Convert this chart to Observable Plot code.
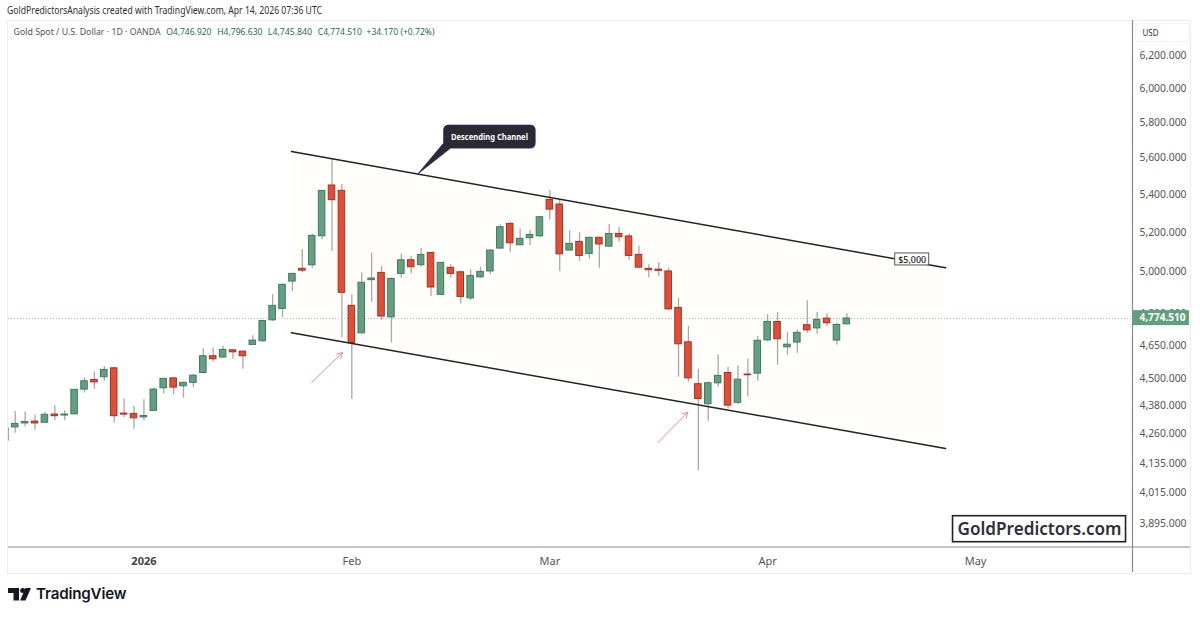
<!DOCTYPE html>
<html>
<head>
<meta charset="utf-8">
<script src="https://cdn.jsdelivr.net/npm/d3@7"></script>
<script src="https://cdn.jsdelivr.net/npm/@observablehq/plot@0.6"></script>
<style>
html,body{margin:0;padding:0;background:#fff;width:1200px;height:617px;overflow:hidden;position:relative}
#credit{position:absolute;left:7px;top:3px;font:10.5px/14px "Noto Sans",sans-serif;color:#2e2e2e;white-space:nowrap;transform-origin:left center}
#panel{position:absolute;left:7px;top:20px;width:1182px;height:552px;border:1px solid #eeeeee;box-sizing:content-box}
#unit{position:absolute;left:1135px;top:23px;width:53px;height:17px;border:1px solid #f4f4f4;border-radius:3px}
#chart{position:absolute;left:0;top:20px}
#brand{position:absolute;left:8px;top:585px;height:18px;display:flex;align-items:center}
#brand span{margin-left:5px;font:600 15.2px/18px Inter,sans-serif;color:#131722;letter-spacing:-.2px}
</style>
</head>
<body>
<div id="credit">GoldPredictorsAnalysis created with TradingView.com, Apr 14, 2026 07:36 UTC</div>
<div id="panel"></div>
<div id="unit"></div>
<div id="chart"></div>
<div id="brand"><svg width="23" height="14" viewBox="0 0 23 14"><path d="M0 1h11v12.5H5.5V6H0z" fill="#131722"/><circle cx="14.7" cy="3.5" r="2.5" fill="#131722"/><path d="M17.5 1H23l-5.5 12.5H12z" fill="#131722"/></svg><span>TradingView</span></div>
<script>
const open=[4229,4285,4302,4310,4305,4340,4336,4341,4449,4492,4504,4544,4344,4343,4328,4356,4455,4499,4464,4479,4523,4599,4593,4626,4620,4651,4668,4766,4820,4953,5016,5034,5181,5449,5420,4835,4705,4960,4996,4780,4991,5059,5034,5096,4888,5021,4999,4871,4974,5003,5118,5245,5135,5171,5181,5371,5347,5108,5152,5091,5173,5128,5193,5180,5086,5016,5012,5003,4825,4663,4473,4385,4477,4523,4391,4516,4520,4672,4758,4640,4662,4743,4728,4774,4671,4746.92];
const high=[4280,4354,4351,4337,4350,4378,4357,4448,4502,4528,4552,4549,4408,4376,4404,4457,4498,4501,4483,4516,4633,4637,4645,4628,4622,4694,4765,4889,4942,4991,5113,5190,5422,5595,5454,4888,4996,5094,5027,4971,5091,5079,5120,5096,5047,5037,5003,5011,5024,5112,5240,5254,5219,5211,5284,5422,5372,5209,5199,5176,5176,5242,5226,5193,5130,5037,5047,5019,4871,4738,4540,4484,4606,4549,4556,4585,4690,4793,4803,4708,4721,4860,4803,4797,4752,4796.63];
const low=[4229,4260,4288,4274,4304,4314,4314,4341,4434,4450,4486,4304,4328,4277,4314,4356,4430,4427,4411,4458,4523,4573,4591,4585,4540,4649,4663,4760,4778,4904,4996,5019,5163,5103,4684,4405,4702,4852,4765,4660,4969,4991,5024,4881,4885,4969,4844,4860,4968,4988,5116,5099,5133,5132,5173,5266,5001,5108,5054,5066,5019,5122,5150,5058,5019,4971,4978,4812,4504,4481,4104,4311,4459,4365,4383,4418,4486,4665,4558,4603,4612,4705,4700,4738,4649,4745.84];
const close=[4280,4300,4308,4302,4339,4333,4340,4448,4486,4481,4537,4333,4340,4324,4334,4449,4497,4458,4479,4511,4599,4585,4628,4617,4599,4671,4763,4835,4937,4991,5007,5183,5420,5370,4898,4660,4947,4968,4784,4966,5059,5024,5086,4924,5046,4991,4878,4981,5001,5108,5228,5145,5168,5188,5280,5320,5089,5142,5081,5173,5139,5193,5176,5081,5022,5009,5006,4818,4654,4499,4408,4477,4510,4379,4493,4513,4670,4758,4677,4652,4707,4719,4768,4752,4744,4774.51];

const priceTicks=[6200,6000,5800,5600,5400,5200,5000,4800,4650,4500,4380,4260,4135,4015,3895];
const dateTicks=[35,55,77,98];
const dateLabels=["Feb","Mar","Apr","May"];
const yearTick=[14];
const yearLabel=["2026"];

const channelBars=[28.9,94.97];
const channelUpper=[5636,5021];
const channelLower=[4707,4196];
const arrowBars=[[30.93,34.06],[65.9,68.94]];
const arrowPrices=[[4480,4616],[4220,4350]];
const lastPrice=close[close.length-1];

const legendParts=["Gold Spot / U.S. Dollar · 1D · OANDA","O4,746.920","H4,796.630","L4,745.840","C4,774.510","+34.170 (+0.72%)"];
const legendOffsets=[13,165.7,216.7,267.3,317.3,366];
const legendWidths=[147,45.3,45.3,44.3,44,68];
const legendColors=["#555","#1f6b4f","#1f6b4f","#1f6b4f","#1f6b4f","#1f6b4f"];

const bars=open.map((o,i)=>({i,o,h:high[i],l:low[i],c:close[i],up:close[i]>=o}));
const rising=bars.filter(b=>b.up), falling=bars.filter(b=>!b.up);
const halfBody=0.33, leftEdge=0.323, rightEdge=113.85, tagEnd=119.6;
const bodyX={x1:d=>d.i-halfBody,x2:d=>d.i+halfBody,y1:"o",y2:"c",clip:true,strokeWidth:1};
const channel=channelBars.map((x,k)=>({x,u:channelUpper[k],d:channelLower[k]}));
const arrows=arrowBars.map((x,k)=>({x1:x[0],x2:x[1],y1:arrowPrices[k][0],y2:arrowPrices[k][1]}));
const svgEl=n=>document.createElementNS("http://www.w3.org/2000/svg",n);
const fmt=d3.format(",.3f");

function bubble(atBar,atPrice,label){
  return (idx,{x,y})=>{
    const px=x(atBar),py=y(atPrice);
    const g=svgEl("g");
    const path=svgEl("path");
    const L=px+25.5,R=px+117,T=py-48.5,B=py-25.5,r=5;
    path.setAttribute("d",`M${px} ${py}L${L} ${B-5}V${T+r}Q${L} ${T} ${L+r} ${T}H${R-r}Q${R} ${T} ${R} ${T+r}V${B-r}Q${R} ${B} ${R-r} ${B}H${L+7}Z`);
    path.setAttribute("fill","#2a2a33");
    path.setAttribute("stroke","#26267a");
    path.setAttribute("stroke-width","0.8");
    g.appendChild(path);
    const t=svgEl("text");
    t.textContent=label;
    t.setAttribute("x",(L+R)/2);t.setAttribute("y",(T+B)/2);
    t.setAttribute("text-anchor","middle");t.setAttribute("dominant-baseline","central");
    t.setAttribute("fill","#fff");
    t.setAttribute("textLength",77);t.setAttribute("lengthAdjust","spacingAndGlyphs");
    t.setAttribute("style","font:bold 8px 'Noto Sans',sans-serif");
    g.appendChild(t);
    return g;
  };
}
function box(atBar,atPrice,w,h,strokeW,stroke){
  return (idx,{x,y})=>{
    const r=svgEl("rect");
    r.setAttribute("x",x(atBar)-w/2);r.setAttribute("y",y(atPrice)-h/2);
    r.setAttribute("width",w);r.setAttribute("height",h);
    r.setAttribute("fill","#fff");r.setAttribute("stroke",stroke);r.setAttribute("stroke-width",strokeW);
    return r;
  };
}

const chart=Plot.plot({
  width:1200,height:553,
  marginTop:0,marginBottom:26,marginLeft:8,marginRight:68,
  style:{background:"transparent",fontFamily:"'Noto Sans',sans-serif",fontSize:"11px",overflow:"visible"},
  x:{type:"linear",domain:[leftEdge,rightEdge],label:null},
  y:{type:"log",domain:[3895,6200],range:[503,35],label:null},
  marks:[
    Plot.areaY(channel,{x:"x",y1:"d",y2:"u",fill:"#fffefa"}),
    Plot.ruleY([lastPrice],{stroke:"#9fcbb5",strokeWidth:1,strokeDasharray:"1,2"}),
    Plot.ruleX(bars,{x:"i",y1:"l",y2:"h",stroke:"#a8a8a8",strokeWidth:1.3,clip:true}),
    Plot.rect(rising,{...bodyX,fill:"#639f80",stroke:"#3f7a60"}),
    Plot.rect(falling,{...bodyX,fill:"#df4f38",stroke:"#a9301f"}),
    Plot.line(channel,{x:"x",y:"u",stroke:"#222",strokeWidth:1.5}),
    Plot.line(channel,{x:"x",y:"d",stroke:"#222",strokeWidth:1.5}),
    Plot.arrow(arrows,{x1:"x1",y1:"y1",x2:"x2",y2:"y2",stroke:"#e98d98",strokeWidth:1,bend:0,headLength:9}),
    bubble(41.75,5511,"Descending Channel"),
    box(91.6,5063,34,12,1,"#555"),
    Plot.text(["$5,000"],{x:[91.6],y:[5063],fill:"#222",fontSize:9.5,fontFamily:"'Noto Sans',sans-serif",fontWeight:500}),
    box(104.46,3873,173,26,1.6,"#222"),
    Plot.text(["GoldPredictors.com"],{x:[104.46],y:[3873],fill:"#2b2f3a",fontSize:18,fontWeight:600,fontFamily:"'Noto Sans',sans-serif"}),
    Plot.axisY(priceTicks,{anchor:"right",tickSize:0,tickPadding:7,tickFormat:fmt,label:null,fill:"#555",fontSize:10.5}),
    Plot.rect([lastPrice],{x1:rightEdge,x2:tagEnd,y1:[4812],y2:[4741],fill:"#5f9f80"}),
    Plot.text([lastPrice],{x:rightEdge,y:[4777],dx:7,text:d=>fmt(d),textAnchor:"start",fill:"#fff",fontSize:10.5,fontWeight:"bold"}),
    Plot.text(["USD"],{frameAnchor:"top-right",dx:10,dy:12,textAnchor:"start",lineAnchor:"middle",fill:"#333",fontSize:9.5}),
    ...legendParts.map((t,k)=>Plot.text([t],{frameAnchor:"top-left",dx:legendOffsets[k]-8,dy:11,lineAnchor:"middle",textAnchor:"start",fill:legendColors[k],fontSize:9.5,fontFamily:"'Noto Sans',sans-serif"})),
    Plot.ruleX([rightEdge],{stroke:"#8a8a8a",strokeWidth:1.2,insetBottom:-25}),
    Plot.axisX(dateTicks,{tickSize:0,tickPadding:10,tickFormat:d=>dateLabels[dateTicks.indexOf(d)],label:null,fill:"#555",fontSize:11}),
    Plot.axisX(yearTick,{tickSize:0,tickPadding:10,tickFormat:()=>yearLabel[0],label:null,fill:"#444",fontWeight:"bold",fontSize:11}),
    (idx,s,v,{height,marginBottom})=>{
      const l=svgEl("line");
      l.setAttribute("x1",8);l.setAttribute("x2",1190);
      l.setAttribute("y1",height-marginBottom);l.setAttribute("y2",height-marginBottom);
      l.setAttribute("stroke","#8a8a8a");l.setAttribute("stroke-width",1.2);
      return l;
    }
  ]
});
document.getElementById("chart").appendChild(chart);

// Squeeze the labels to the widths they have in the reference.
const widths=new Map([["GoldPredictors.com",164],["$5,000",28],[fmt(lastPrice),46],["USD",16]]);
legendParts.forEach((t,k)=>widths.set(t,legendWidths[k]));
priceTicks.forEach(p=>widths.set(fmt(p),47));
chart.querySelectorAll("text").forEach(t=>{
  const w=widths.get(t.textContent.trim());
  if(w){t.setAttribute("textLength",w);t.setAttribute("lengthAdjust","spacingAndGlyphs");}
});
const credit=document.getElementById("credit");
credit.style.transform=`scaleX(${315/credit.getBoundingClientRect().width})`;
</script>
</body>
</html>
